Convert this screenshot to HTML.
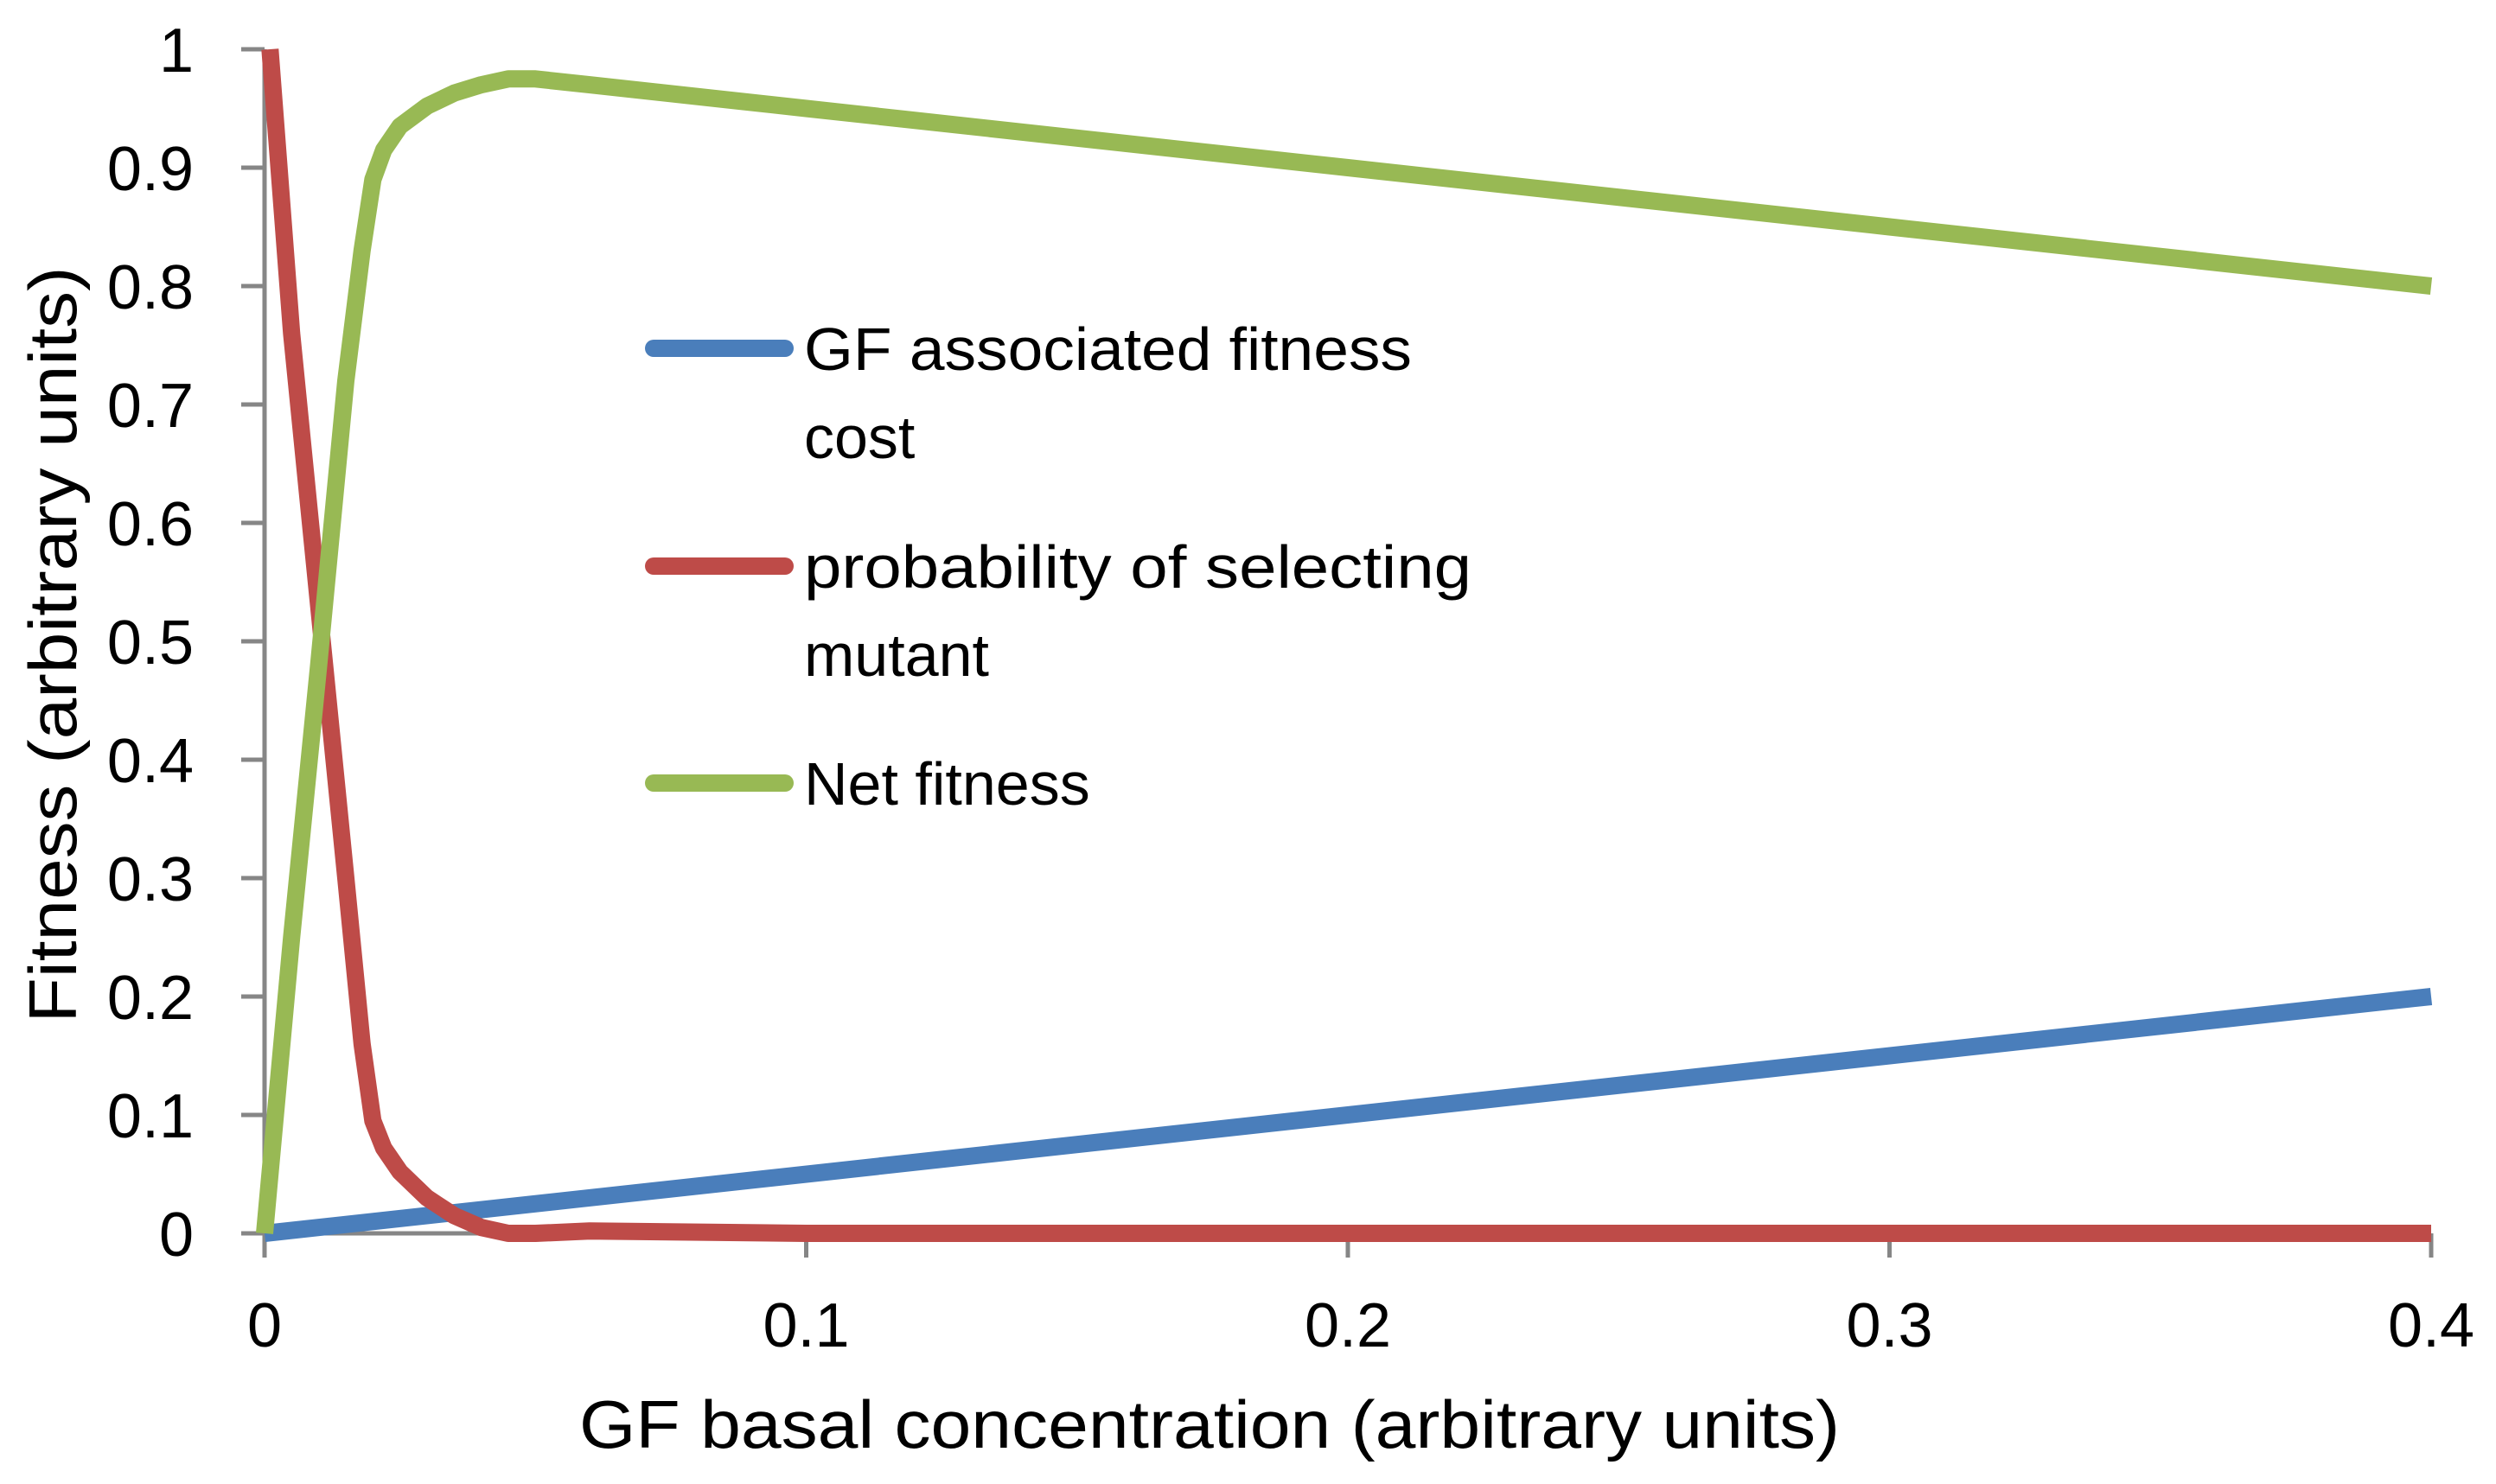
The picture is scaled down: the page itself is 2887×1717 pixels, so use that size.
<!DOCTYPE html>
<html><head><meta charset="utf-8"><style>
html,body{margin:0;padding:0;background:#fff;}
svg{display:block;}
text{font-family:"Liberation Sans",sans-serif;fill:#000;}
</style></head><body>
<svg id="chart" width="2887" height="1717" viewBox="0 0 2887 1717" xmlns="http://www.w3.org/2000/svg">
<g id="axes"></g>
<g id="series"></g>
<text x="1399" y="1675" font-size="78" text-anchor="middle" textLength="1458" lengthAdjust="spacingAndGlyphs">GF basal concentration (arbitrary units)</text>
<text transform="translate(88,746) rotate(-90)" font-size="78" text-anchor="middle" textLength="875" lengthAdjust="spacingAndGlyphs">Fitness (arbitrary units)</text>
<g>
<line x1="756" y1="403" x2="908" y2="403" stroke="#4a7ebb" stroke-width="20" stroke-linecap="round"/>
<text x="930" y="428" font-size="70" textLength="703" lengthAdjust="spacingAndGlyphs">GF associated fitness</text>
<text x="930" y="530" font-size="70">cost</text>
<line x1="756" y1="655" x2="908" y2="655" stroke="#be4b48" stroke-width="20" stroke-linecap="round"/>
<text x="930" y="680" font-size="70" textLength="772" lengthAdjust="spacingAndGlyphs">probability of selecting</text>
<text x="930" y="782" font-size="70">mutant</text>
<line x1="756" y1="906" x2="908" y2="906" stroke="#98b954" stroke-width="20" stroke-linecap="round"/>
<text x="930" y="931" font-size="70">Net fitness</text>
</g>
</svg>
<script>
const xTicks = [0, 0.1, 0.2, 0.3, 0.4];
const xTickLabels = ["0", "0.1", "0.2", "0.3", "0.4"];
const yTicks = [0, 0.1, 0.2, 0.3, 0.4, 0.5, 0.6, 0.7, 0.8, 0.9, 1];
const yTickLabels = ["0", "0.1", "0.2", "0.3", "0.4", "0.5", "0.6", "0.7", "0.8", "0.9", "1"];
const costX = [0, 0.4];
const costY = [0, 0.2];
const probX = [0.001, 0.005, 0.01, 0.015, 0.018, 0.02, 0.022, 0.025, 0.03, 0.035, 0.04, 0.045, 0.05, 0.06, 0.1, 0.2, 0.3, 0.4];
const probY = [1, 0.76, 0.53, 0.3, 0.16, 0.095, 0.072, 0.052, 0.03, 0.015, 0.005, 0, 0, 0.002, 0, 0, 0, 0];
const netX = [0, 0.005, 0.01, 0.015, 0.018, 0.02, 0.022, 0.025, 0.03, 0.035, 0.04, 0.045, 0.05, 0.06, 0.1, 0.2, 0.3, 0.4];
const netY = [0, 0.25, 0.48, 0.72, 0.83, 0.89, 0.915, 0.935, 0.952, 0.963, 0.97, 0.975, 0.975, 0.97, 0.95, 0.9, 0.85, 0.8];

const X0 = 306, X1 = 2812, Y0 = 1427, Y1 = 57;
const xs = v => X0 + (v - 0) / 0.4 * (X1 - X0);
const ys = v => Y0 - v * (Y0 - Y1);
const NS = "http://www.w3.org/2000/svg";
const axes = document.getElementById('axes');
const series = document.getElementById('series');
function mk(tag, attrs, parent) {
  const e = document.createElementNS(NS, tag);
  for (const k in attrs) e.setAttribute(k, attrs[k]);
  parent.appendChild(e);
  return e;
}
const gray = "#868686";
const ya = mk('line', {x1: X0, y1: Y1, x2: X0, y2: Y0, stroke: gray, 'stroke-width': 5}, axes);


const xa = mk('line', {x1: X0, y1: Y0, x2: X1, y2: Y0, stroke: gray, 'stroke-width': 5}, axes);


yTicks.forEach((t, i) => {
  const y = ys(t);
  const tk = mk('line', {x1: X0 - 27, y1: y, x2: X0, y2: y, stroke: gray, 'stroke-width': 5}, axes);
  
  
  const lb = mk('text', {x: 224, y: y + 26, 'font-size': 72, 'text-anchor': 'end'}, axes);
  lb.textContent = yTickLabels[i];
  
  
});
xTicks.forEach((t, i) => {
  const x = xs(t);
  const tk = mk('line', {x1: x, y1: Y0, x2: x, y2: Y0 + 28, stroke: gray, 'stroke-width': 5}, axes);
  
  
  const lb = mk('text', {x: x, y: 1558, 'font-size': 72, 'text-anchor': 'middle'}, axes);
  lb.textContent = xTickLabels[i];
  
  
});
function line(xsArr, ysArr, color, name) {
  const pts = xsArr.map((v, i) => xs(v).toFixed(1) + ',' + ys(ysArr[i]).toFixed(1)).join(' ');
  const p = mk('polyline', {points: pts, fill: 'none', stroke: color, 'stroke-width': 20, 'stroke-linejoin': 'round'}, series);
  
  
}
line(costX, costY, '#4a7ebb', 'cost-line');
line(probX, probY, '#be4b48', 'probability-line');
line(netX, netY, '#98b954', 'net-fitness-line');
</script>
</body></html>
